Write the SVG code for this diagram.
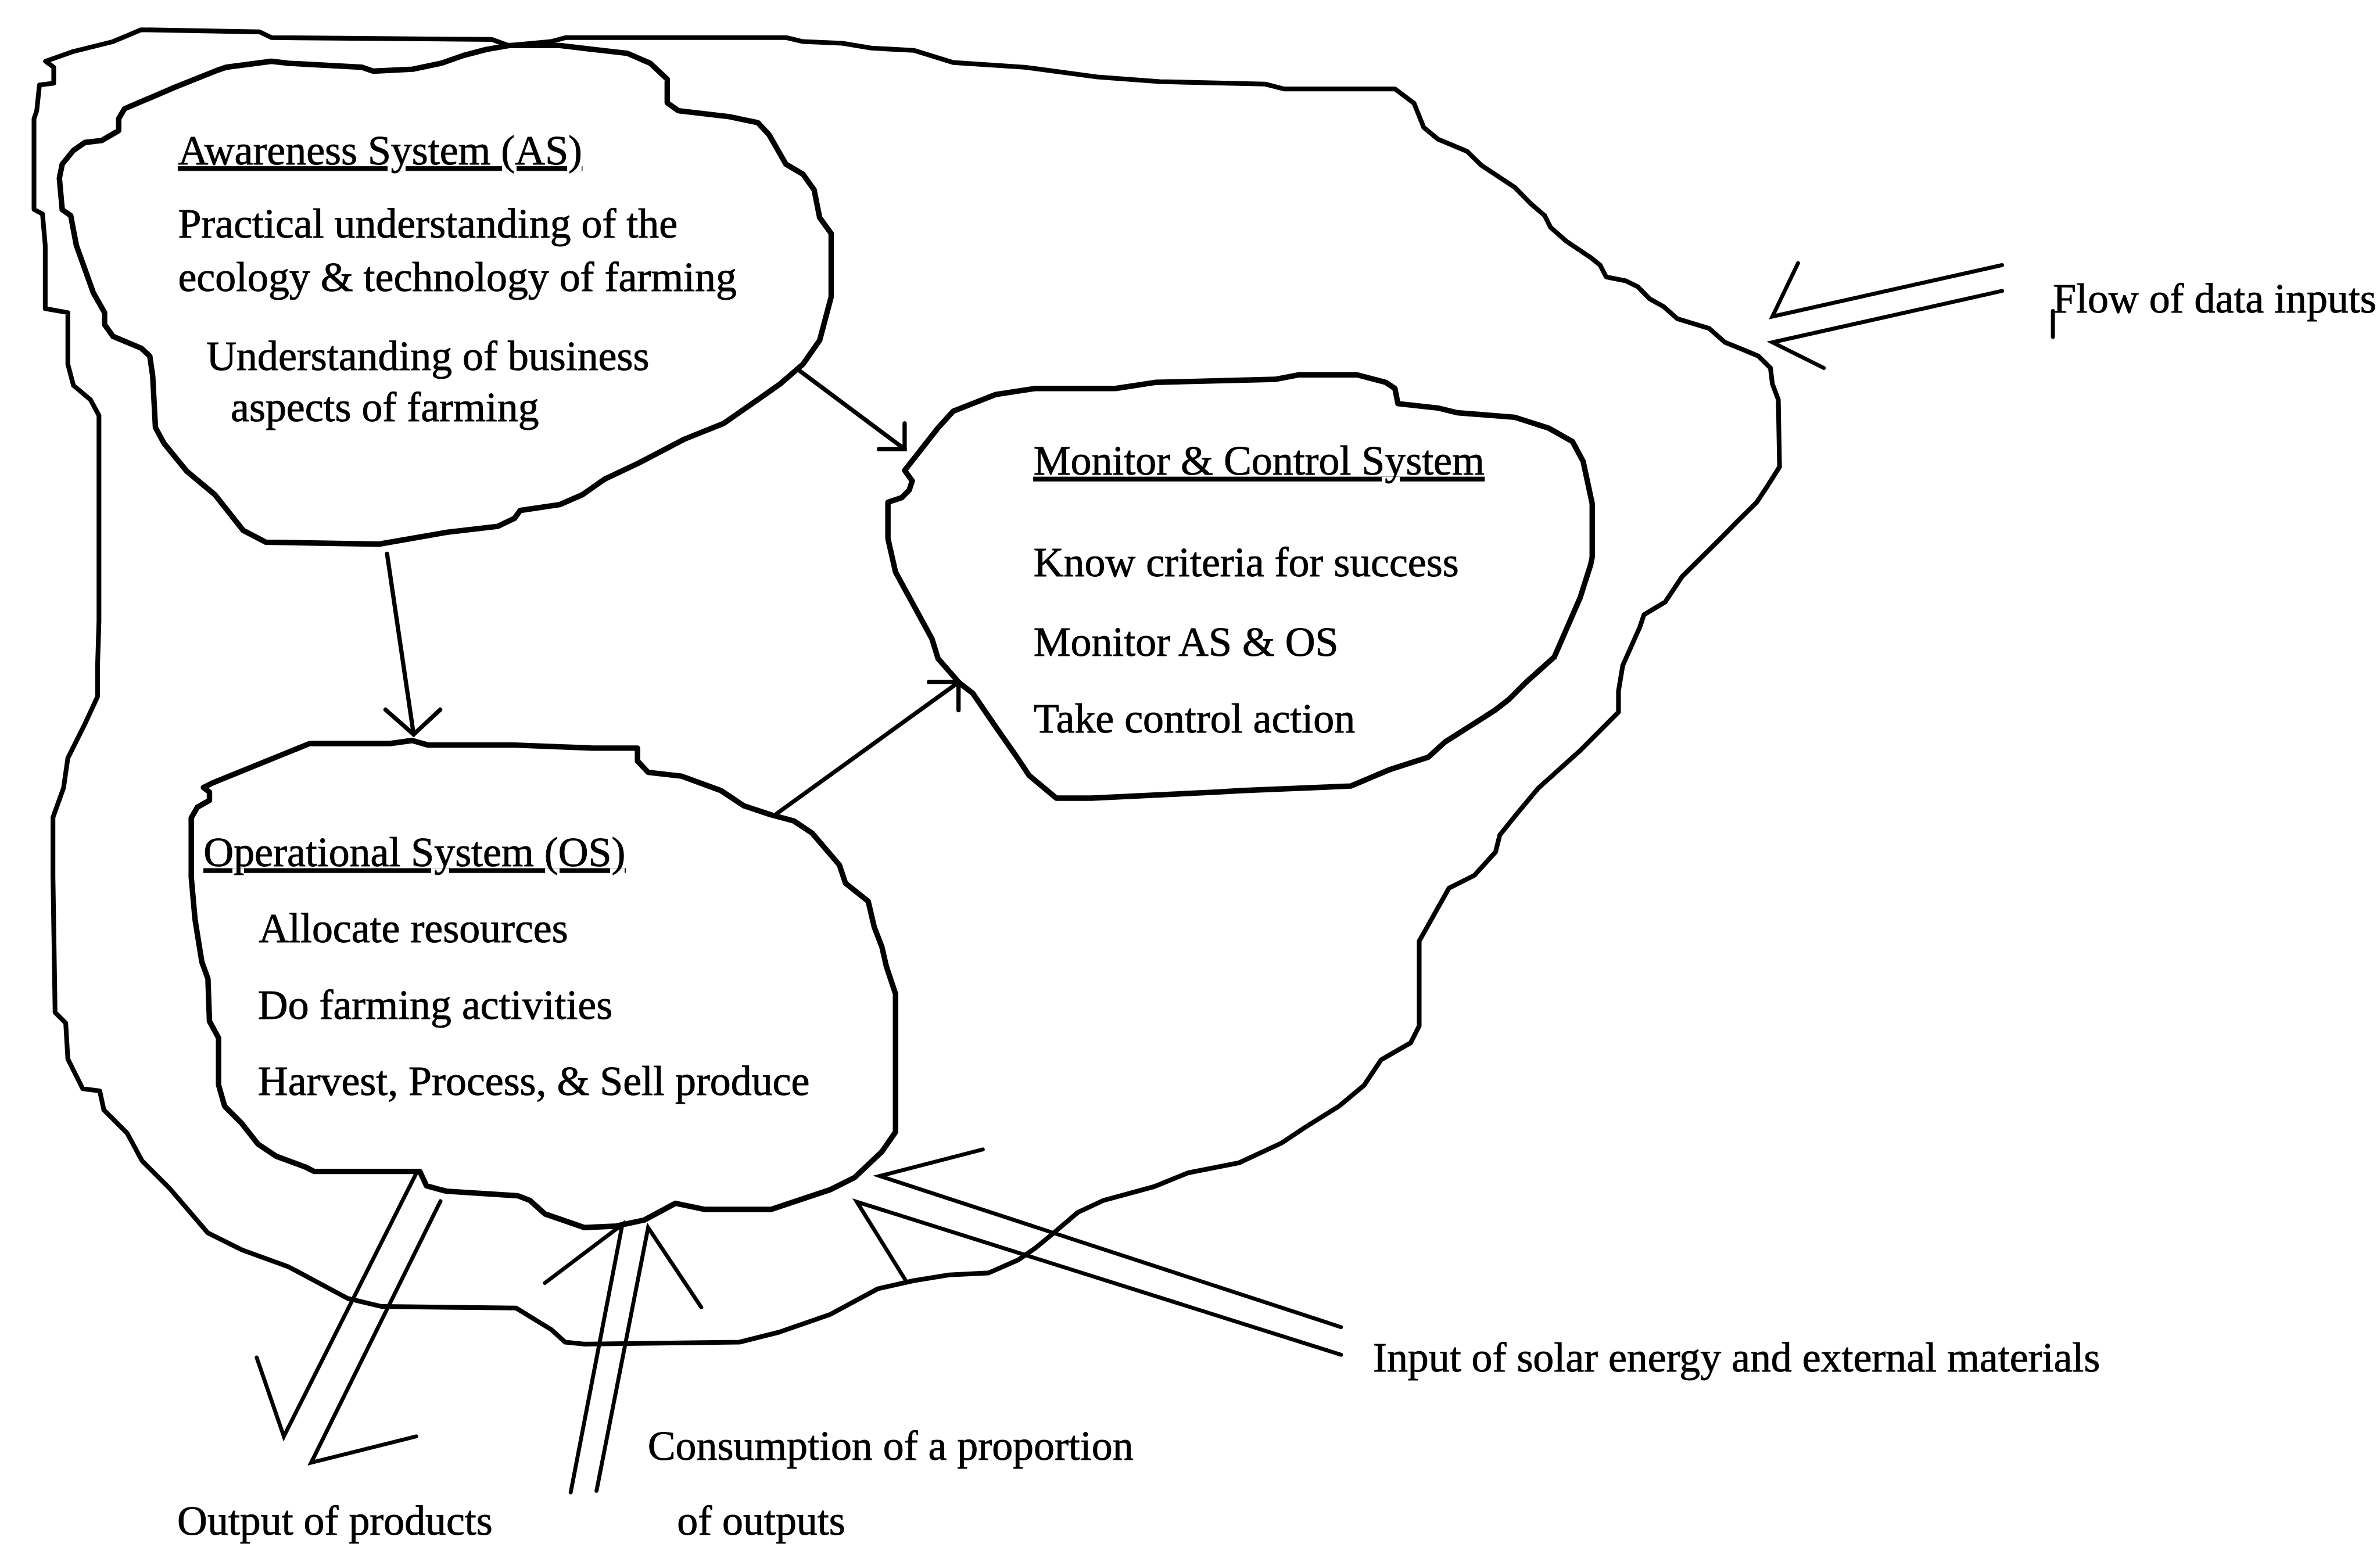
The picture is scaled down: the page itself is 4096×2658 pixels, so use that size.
<svg xmlns="http://www.w3.org/2000/svg" width="4096" height="2658" viewBox="0 0 4096 2658">
  <style>
    .blob { fill: none; stroke: #000; stroke-width: 3.6; stroke-linejoin: round; stroke-linecap: round; }
    .outer { fill: none; stroke: #000; stroke-width: 3.1; stroke-linejoin: round; stroke-linecap: round; }
    .arrow { fill: none; stroke: #000; stroke-width: 2.8; stroke-linejoin: miter; stroke-linecap: round; }
    .flow { fill: none; stroke: #000; stroke-width: 2.6; stroke-linejoin: miter; stroke-linecap: round; }
    text { font-family: "Liberation Serif", "Times New Roman", serif; font-size: 27.5px; fill: #000; stroke: #000; stroke-width: 0.35px; }
    .title { text-decoration: underline; }
  </style>
  <rect width="4096" height="2658" fill="#fff"/>
  <!-- drawing units: 1 unit = 2.61224 px -->
  <g transform="scale(2.61224)">

    <!-- the farm as a whole -->
    <g id="farm-system">
      <path class="outer" d="M30,40.4 L48,34 L74.5,27.4 L93,19.6 L171,21 L179,24.8 L324,26 L335,30 L363,27.4 L372.5,24.8 L518,24.8 L529,27.4 L555,28.5 L574,31.7 L602,33.2 L628,41.2 L675,44.3 L723,50.7 L764,53.8 L833.5,55.4 L846,58.6 L919,58.6 L931.6,68 L938,84 L947.5,91.8 L966.5,99.7 L976,109 L998,123.5 L1008.6,134.3 L1017.7,142.1 L1021.6,149.9 L1032,159 L1047.7,169.5 L1054.2,174.7 L1058.2,182.5 L1071.2,185.1 L1079,189 L1086.8,196.9 L1096,202 L1105,210 L1126,216.4 L1136.4,225.6 L1149.4,230.8 L1158.5,234.7 L1166.4,242.5 L1167.7,253 L1171.6,263.4 L1172.4,307.7 L1164,321 L1157.2,331.2 L1144.6,343.6 L1133.8,354.6 L1108.2,380 L1097.1,396.7 L1083.1,405.1 L1080.3,413.4 L1069.1,438.6 L1066.3,455.4 L1066.3,469.3 L1041.2,494.5 L1013.3,519.6 L999.3,536.4 L988.1,550.3 L985.3,561.5 L971.3,576.9 L954.6,585.3 L935,620.2 L935,676.1 L929.4,687.2 L909.9,698.4 L898.7,715.2 L882,729.1 L859.6,743.1 L844.2,753.3 L833.1,758.5 L816.3,766.3 L782.8,772.9 L760.4,782 L726.9,791.1 L710.1,799 L693.3,813.3 L682.2,822.4 L671,830.2 L651.3,838.9 L625.3,840.2 L601.8,844 L578.3,849.3 L547,866.2 L513.1,878 L487.1,884.5 L385.4,885.8 L372.3,884.5 L363.2,876.2 L340,862 L251.4,861 L229.1,855.7 L190,834.8 L159.2,823.6 L136.9,812.5 L111.7,783.1 L93.6,765 L83.8,746.8 L68.4,731.4 L65.7,718.9 L54.5,717.5 L44.7,697.9 L43.3,674.2 L36.3,667.2 L34.9,577.8 L34.9,538.7 L41.9,519.1 L44.7,499.6 L55.9,477.2 L64.3,459 L64.3,438.1 L65.2,409 L65.2,273.8 L59.6,263.4 L48.4,254 L44.7,240 L44.7,206 L29.8,203.4 L29.8,161.7 L28,141 L22.4,138 L22.4,78.2 L24.2,73 L26,56 L35.4,54.8 L35.4,44.3 Z"/>
    </g>

    <!-- Awareness System -->
    <g id="awareness-system">
      <path class="blob" d="M335.3,30 L369,30 L391,32.6 L413.5,35.2 L428.4,41.7 L439.6,52.2 L439.6,67.8 L447,73 L480.5,76.9 L499.2,80.8 L506.6,88.7 L517.8,108.2 L529,114.8 L536.4,125.2 L540,143.4 L547.6,153.9 L547.6,195.6 L540,224.3 L529,240 L514,253 L499.2,263.4 L476.8,279 L450.7,289.5 L420.9,305.1 L398.6,315.6 L383.7,326 L368.8,332.5 L342.7,336.4 L339,341.6 L327.8,346.9 L294.3,350.8 L249.6,358.6 L175.1,357.3 L160.2,349.5 L141.6,326 L122.9,310.4 L108,292.1 L102.4,281.7 L100.6,247.8 L98.7,234.7 L93.1,229.5 L74.5,221.7 L68.9,213.9 L68.9,206 L61.5,193 L55.9,177.3 L50.3,161.7 L46.6,142.1 L41,138.2 L39.1,117.4 L41,108.2 L48.4,99.1 L55.9,93.9 L67,92.6 L78.2,86.1 L78.2,78.2 L82,71.7 L115.5,57.4 L141.6,46.9 L149,44.3 L178.8,40.4 L190,41.7 L238.4,44.3 L245.9,46.9 L271.9,45.6 L290.6,41.7 L305.5,36.5 L320.4,32.6 Z"/>
      <text class="title" x="117.3" y="108.2">Awareness System (AS)</text>
      <text x="117.3" y="156.5">Practical understanding of the</text>
      <text x="117.3" y="191.7">ecology &amp; technology of farming</text>
      <text x="136" y="243.8">Understanding of business</text>
      <text x="152" y="277.7">aspects of farming</text>
    </g>

    <!-- Monitor & Control System -->
    <g id="monitor-control-system">
      <path class="blob" d="M596,310 L618,282 L628,271 L656,260 L682,256 L735,256 L761,252 L840,250 L856,247 L894,247 L913,252 L919,256 L921,266 L948,269 L960,272 L998,275 L1020,282 L1036,291 L1043,304 L1049,332 L1049,367 L1048,372 L1041,394 L1024,433 L1005,450 L994,461 L985,468 L952,489 L941,499 L916,507 L890,518 L818,521 L801,522 L719,526 L696,526 L678,511 L670,499 L656,479 L641,457 L632,450 L618,434 L614,421 L602,399 L590,377 L585,355 L585,331 L594,328 L599,323 L601,317 Z"/>
      <text class="title" x="680.9" y="312.8">Monitor &amp; Control System</text>
      <text x="680.9" y="379.9">Know criteria for success</text>
      <text x="680.9" y="432.2">Monitor AS &amp; OS</text>
      <text x="680.9" y="482.8">Take control action</text>
    </g>

    <!-- Operational System -->
    <g id="operational-system">
      <path class="blob" d="M204,490 L257,490 L271.5,488 L282,491 L339,491 L390,493 L420,493 L420,501.5 L427,509 L449,511.5 L475,521 L490,531 L508,537 L523,541 L535,549 L553,570 L557,582 L572,594 L576,611 L581,624 L584,637 L590,655 L590,746 L581,759 L563,776 L547,784 L508,797 L464,797 L445,793 L424.5,804 L406,808 L385,809 L359,800 L349,791 L341,788 L294,785 L281,781.5 L276.6,772 L207,772 L201,769 L182,762 L170,754 L159,740 L148,729 L144,715 L144,684 L138,673 L137,645 L133,634 L128.5,606 L126,578 L126,539 L130,532 L138,527.5 L138,522 L134,519 L140,516 Z"/>
      <text class="title" x="134.1" y="570.8">Operational System (OS)</text>
      <text x="170.4" y="621.1">Allocate resources</text>
      <text x="169.9" y="671.4">Do farming activities</text>
      <text x="169.9" y="721.7">Harvest, Process, &amp; Sell produce</text>
    </g>

    <!-- links between the three sub-systems -->
    <g id="connectors">
      <g id="as-to-mc">
        <path class="arrow" d="M525,243 L596,296"/>
        <path class="arrow" d="M596,279 L596,296 L579,296"/>
      </g>
      <g id="as-to-os">
        <path class="arrow" d="M255,365 L272.5,484"/>
        <path class="arrow" d="M254,467.7 L272.5,484 L290,467.7"/>
      </g>
      <g id="os-to-mc">
        <path class="arrow" d="M512,536 L631,450"/>
        <path class="arrow" d="M612,449.5 L631.5,449.5 L631.5,468"/>
      </g>

      <!-- flows crossing the farm boundary -->
      <g id="data-inputs">
        <path class="flow" d="M1319,174.7 L1167.7,208.6 L1184.6,173.4"/>
        <path class="flow" d="M1319,191.7 L1167.7,225.6 L1201.6,242.5"/>
        <path class="flow" d="M1352.5,205 L1352.5,222"/>
      </g>
      <g id="solar-input">
        <path class="flow" d="M883.5,874.6 L579.6,775 L647.5,757.5"/>
        <path class="flow" d="M883.5,892.8 L564.5,792 L596.5,843.5"/>
      </g>
      <g id="product-output">
        <path class="flow" d="M274.2,773.3 L187,946.6 L169.1,894.6"/>
        <path class="flow" d="M290.2,791.6 L205,963.9 L274.2,946.6"/>
      </g>
      <g id="consumption">
        <path class="flow" d="M376,983.5 L410,807 L359,845.5"/>
        <path class="flow" d="M393,982.5 L427,809 L462,861.5"/>
      </g>
    </g>

    <!-- labels for the boundary flows -->
    <g id="flow-labels">
      <text x="1352.5" y="206">Flow of data inputs</text>
      <text x="904.6" y="904">Input of solar energy and external materials</text>
      <text x="426.7" y="962">Consumption of a proportion</text>
      <text x="446.1" y="1011.5">of outputs</text>
      <text x="116.8" y="1011.5">Output of products</text>
    </g>
  </g>
</svg>
